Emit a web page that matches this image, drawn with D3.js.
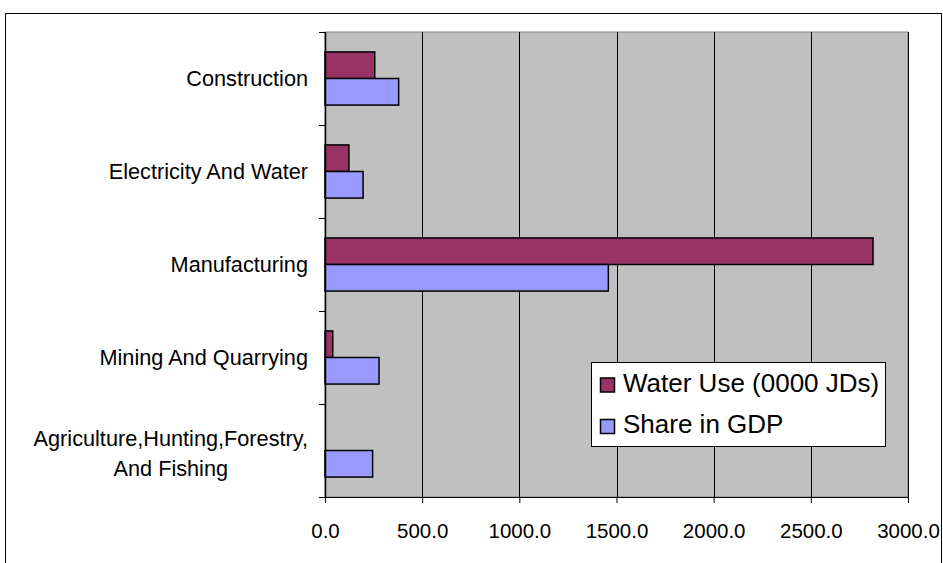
<!DOCTYPE html>
<html>
<head>
<meta charset="utf-8">
<script src="https://cdn.jsdelivr.net/npm/d3@7"></script>
<style>
  body { margin: 0; background: #fff; }
  text { font-family: "Liberation Sans", Arial, sans-serif; fill: #000; }
</style>
</head>
<body>
<svg id="chart"></svg>
<script>
// data, bottom-to-top order as in the original chart
const categories = [
  'Agriculture,Hunting,Forestry,|And Fishing',
  'Mining And Quarrying',
  'Manufacturing',
  'Electricity And Water',
  'Construction'
];
const seriesNames = ['Water Use (0000 JDs)', 'Share in GDP'];
const waterUse = [0, 40, 2820, 123, 256];
const shareGdp = [245, 278, 1458, 196, 379];
const xTicks = [0, 500, 1000, 1500, 2000, 2500, 3000];

(() => {
  const width = 943, height = 563;
  const colors = ['#993366', '#9999FF'];
  const plot = { left: 325, right: 908, top: 32, bottom: 497 };

  const svg = d3.select('#chart')
    .attr('width', width)
    .attr('height', height);

  // chart area border
  svg.append('rect')
    .attr('x', 5.5).attr('y', 13.5)
    .attr('width', 936).attr('height', 560)
    .attr('fill', '#fff')
    .attr('stroke', '#000')
    .attr('stroke-width', 1);

  const x = d3.scaleLinear()
    .domain([0, 3000])
    .range([plot.left, plot.right]);

  // top of chart = last category
  const y = d3.scaleBand()
    .domain(d3.range(categories.length).reverse())
    .range([plot.top, plot.bottom]);

  const inner = d3.scaleBand()
    .domain([0, 1])
    .range([0, y.bandwidth()])
    .paddingInner(0)
    .paddingOuter(0.75);

  // plot background
  svg.append('rect')
    .attr('x', plot.left).attr('y', plot.top)
    .attr('width', plot.right - plot.left)
    .attr('height', plot.bottom - plot.top)
    .attr('fill', '#C0C0C0')
    .attr('stroke', '#808080')
    .attr('stroke-width', 1);

  // vertical gridlines
  svg.append('g')
    .selectAll('line')
    .data(xTicks.slice(1))
    .enter()
    .append('line')
    .attr('x1', d => Math.round(x(d)) + 0.5)
    .attr('x2', d => Math.round(x(d)) + 0.5)
    .attr('y1', plot.top)
    .attr('y2', plot.bottom)
    .attr('stroke', '#000')
    .attr('stroke-width', 1);

  // bars
  const rows = categories.map((c, i) => [waterUse[i], shareGdp[i]]);
  const groups = svg.append('g')
    .selectAll('g')
    .data(rows)
    .enter()
    .append('g')
    .attr('transform', (d, i) => `translate(0,${y(i)})`);

  groups.selectAll('rect')
    .data(d => d)
    .enter()
    .append('rect')
    .attr('display', d => d > 0 ? null : 'none')
    .attr('x', x(0))
    .attr('y', (d, j) => inner(j))
    .attr('width', d => x(d) - x(0))
    .attr('height', inner.bandwidth())
    .attr('fill', (d, j) => colors[j])
    .attr('stroke', '#000')
    .attr('stroke-width', 1.5);

  // x axis
  const xAxis = d3.axisBottom(x)
    .tickValues(xTicks)
    .tickFormat(d3.format('.1f'))
    .tickSize(6)
    .tickPadding(20);
  const gx = svg.append('g')
    .attr('transform', `translate(0,${plot.bottom})`)
    .call(xAxis);
  gx.select('.domain').attr('stroke', '#000').attr('d', `M${plot.left},0.5H${plot.right}`);
  gx.selectAll('.tick line').attr('stroke', '#000');
  gx.selectAll('.tick text')
    .style('font-size', '20.5px')
    .style('font-family', '"Liberation Sans", Arial, sans-serif');

  // y axis
  const bounds = d3.range(categories.length + 1).map(i => plot.top + i * y.step());
  svg.append('line')
    .attr('x1', plot.left + 0.5).attr('x2', plot.left + 0.5)
    .attr('y1', plot.top).attr('y2', plot.bottom)
    .attr('stroke', '#000').attr('stroke-width', 1.5);
  svg.append('g')
    .selectAll('line')
    .data(bounds)
    .enter()
    .append('line')
    .attr('x1', plot.left - 6).attr('x2', plot.left)
    .attr('y1', d => Math.round(d) + 0.5)
    .attr('y2', d => Math.round(d) + 0.5)
    .attr('stroke', '#000');

  const labelRight = 308;
  const labels = svg.append('g')
    .selectAll('text')
    .data(categories)
    .enter()
    .append('text')
    .attr('text-anchor', 'end')
    .style('font-size', '21.7px')
    .attr('y', (d, i) => y(i) + y.bandwidth() / 2);

  labels.each(function(d) {
    const parts = d.split('|');
    const t = d3.select(this);
    if (parts.length === 1) {
      t.append('tspan').attr('x', labelRight).attr('dy', 7).text(d);
      return;
    }
    // wrapped label: lines centred on the widest one, right edge at labelRight
    t.attr('text-anchor', 'middle');
    const spans = parts.map((p, k) => t.append('tspan')
      .attr('dy', k === 0 ? -5 : 30)
      .text(p));
    const widest = d3.max(spans, s => s.node().getComputedTextLength());
    spans.forEach(s => s.attr('x', labelRight - widest / 2));
  });

  // legend
  const lg = svg.append('g').attr('transform', 'translate(591,362)');
  lg.append('rect')
    .attr('x', 0.5).attr('y', 0.5)
    .attr('width', 294).attr('height', 84)
    .attr('fill', '#fff')
    .attr('stroke', '#000');
  const items = lg.selectAll('g.item')
    .data(seriesNames)
    .enter()
    .append('g')
    .attr('class', 'item')
    .attr('transform', (d, i) => `translate(0,${23 + i * 41.5})`);
  items.append('rect')
    .attr('x', 9.5).attr('y', -7)
    .attr('width', 14).attr('height', 14)
    .attr('fill', (d, i) => colors[i])
    .attr('stroke', '#000')
    .attr('stroke-width', 1.5);
  items.append('text')
    .attr('x', 32).attr('y', 6.5)
    .style('font-size', '26px')
    .text(d => d);
})();
</script>
</body>
</html>
